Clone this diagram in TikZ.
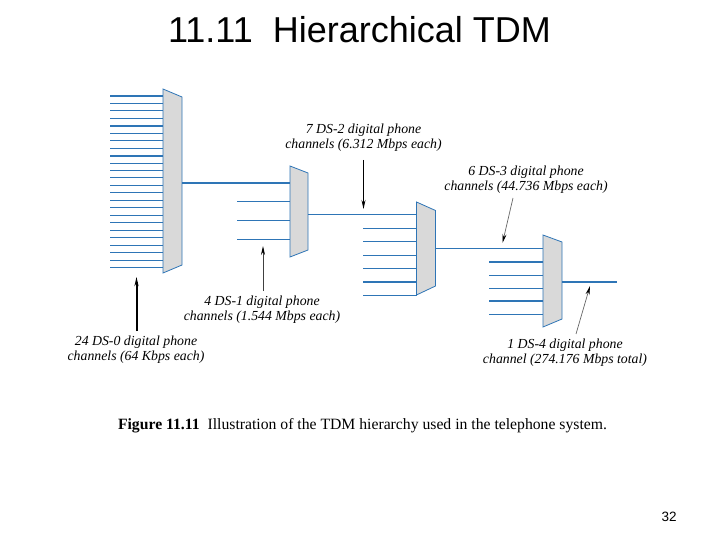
\documentclass[tikz,border=0pt]{standalone}
\usepackage{fontspec}
\setmainfont{Liberation Serif}
\newfontfamily\arialf{Liberation Sans}
\usetikzlibrary{arrows.meta}
\definecolor{lineblue}{RGB}{46,117,182}
\definecolor{muxgray}{RGB}{217,217,217}
\tikzset{
  chan/.style={draw=lineblue, line width=1pt},
  chanthick/.style={draw=lineblue, line width=2pt},
  mux/.style={draw=lineblue, fill=muxgray, line width=0.8pt, line join=miter},
  lbl/.style={font=\itshape\fontsize{13.8}{15}\selectfont, align=center, inner sep=0pt},
  arr/.style={-{Stealth[length=9pt,width=4pt,color=black]}},
}
\begin{document}
\begin{tikzpicture}[x=1pt,y=-1pt]
\useasboundingbox (0,0) rectangle (720,540);
% title
\node[font=\arialf\fontsize{36}{39}\selectfont, inner sep=0pt] (title) at (359.5,30) {11.11\ \ Hierarchical TDM};
% ---------- mux 1 (24 inputs)
\foreach \i in {0,...,23} {
  \pgfmathsetmacro{\yy}{95.7+\i*7.48}
  \ifnum\i=0 \draw[chanthick] (110,\yy) -- (163,\yy);
  \else\ifnum\i=4 \draw[chanthick] (110,\yy) -- (163,\yy);
  \else\ifnum\i=8 \draw[chanthick] (110,\yy) -- (163,\yy);
  \else \draw[chan] (110,\yy) -- (163,\yy);
  \fi\fi\fi
}
\draw[mux] (163,89) -- (182,97) -- (182,265) -- (163,273) -- cycle;
\coordinate (m1out) at (182,183.5);
% ---------- mux 2 (4 inputs)
\coordinate (m2in1) at (290,183.5);
\draw[chanthick] (m1out) -- (m2in1);
\foreach \yy in {202,220.5,239} { \draw[chan] (237,\yy) -- (290,\yy); }
\draw[mux] (290,166) -- (308,173) -- (308,250) -- (290,257) -- cycle;
\coordinate (m2out) at (308,214.3);
% ---------- mux 3 (7 inputs)
\coordinate (m3in1) at (416.5,214.3);
\draw[chan] (m2out) -- (m3in1);
\foreach \yy in {228.5,241.5,255.5,268.5,295} { \draw[chan] (363,\yy) -- (416.5,\yy); }
\draw[chanthick] (363,282) -- (416.5,282);
\draw[mux] (416.5,202) -- (435.5,210.5) -- (435.5,286) -- (416.5,295) -- cycle;
\coordinate (m3out) at (435.5,248.3);
% ---------- mux 4 (6 inputs)
\coordinate (m4in1) at (543,248.3);
\draw[chan] (m3out) -- (m4in1);
\foreach \yy in {275,288,314} { \draw[chan] (489,\yy) -- (543,\yy); }
\foreach \yy in {261.7,301} { \draw[chanthick] (489,\yy) -- (543,\yy); }
\draw[mux] (543,235) -- (562,242) -- (562,319) -- (543,327) -- cycle;
\coordinate (m4out) at (562,281.7);
\coordinate (m4end) at (617,281.7);
\draw[chanthick] (m4out) -- (m4end);
% ---------- labels
\node[lbl] (l0) at (136,350) {24 DS-0 digital phone\\channels (64 Kbps each)};
\node[lbl] (l1) at (262,310) {4 DS-1 digital phone\\channels (1.544 Mbps each)};
\node[lbl] (l2) at (363.5,138) {7 DS-2 digital phone\\channels (6.312 Mbps each)};
\node[lbl] (l3) at (526,179.5) {6 DS-3 digital phone\\channels (44.736 Mbps each)};
\node[lbl] (l4) at (565,353) {1 DS-4 digital phone\\channel (274.176 Mbps total)};
% ---------- arrows
\coordinate (a0s) at (136.5,331);  \coordinate (a0t) at (136.5,277);
\draw[arr, line width=2pt, black] (a0s) -- (a0t);
\coordinate (a1s) at (263,291);  \coordinate (a1t) at (263,246);
\draw[arr, line width=0.8pt, black!75] (a1s) -- (a1t);
\coordinate (a2s) at (363.5,160);  \coordinate (a2t) at (363.5,209);
\draw[arr, line width=1.2pt, black] (a2s) -- (a2t);
\coordinate (a3s) at (513,198);  \coordinate (a3t) at (502.5,243);
\draw[arr, line width=0.7pt, black!60] (a3s) -- (a3t);
\coordinate (a4s) at (576,334);  \coordinate (a4t) at (590,286);
\draw[arr, line width=0.7pt, black!60] (a4s) -- (a4t);
% ---------- caption
\node[font=\fontsize{15.7}{18}\selectfont, inner sep=0pt] (cap) at (362.5,426) {\textbf{Figure 11.11}\ \ Illustration of the TDM hierarchy used in the telephone system.};
% page number
\node[font=\arialf\fontsize{13.5}{15}\selectfont, inner sep=0pt] (pg) at (669,517) {32};
\end{tikzpicture}
\end{document}
